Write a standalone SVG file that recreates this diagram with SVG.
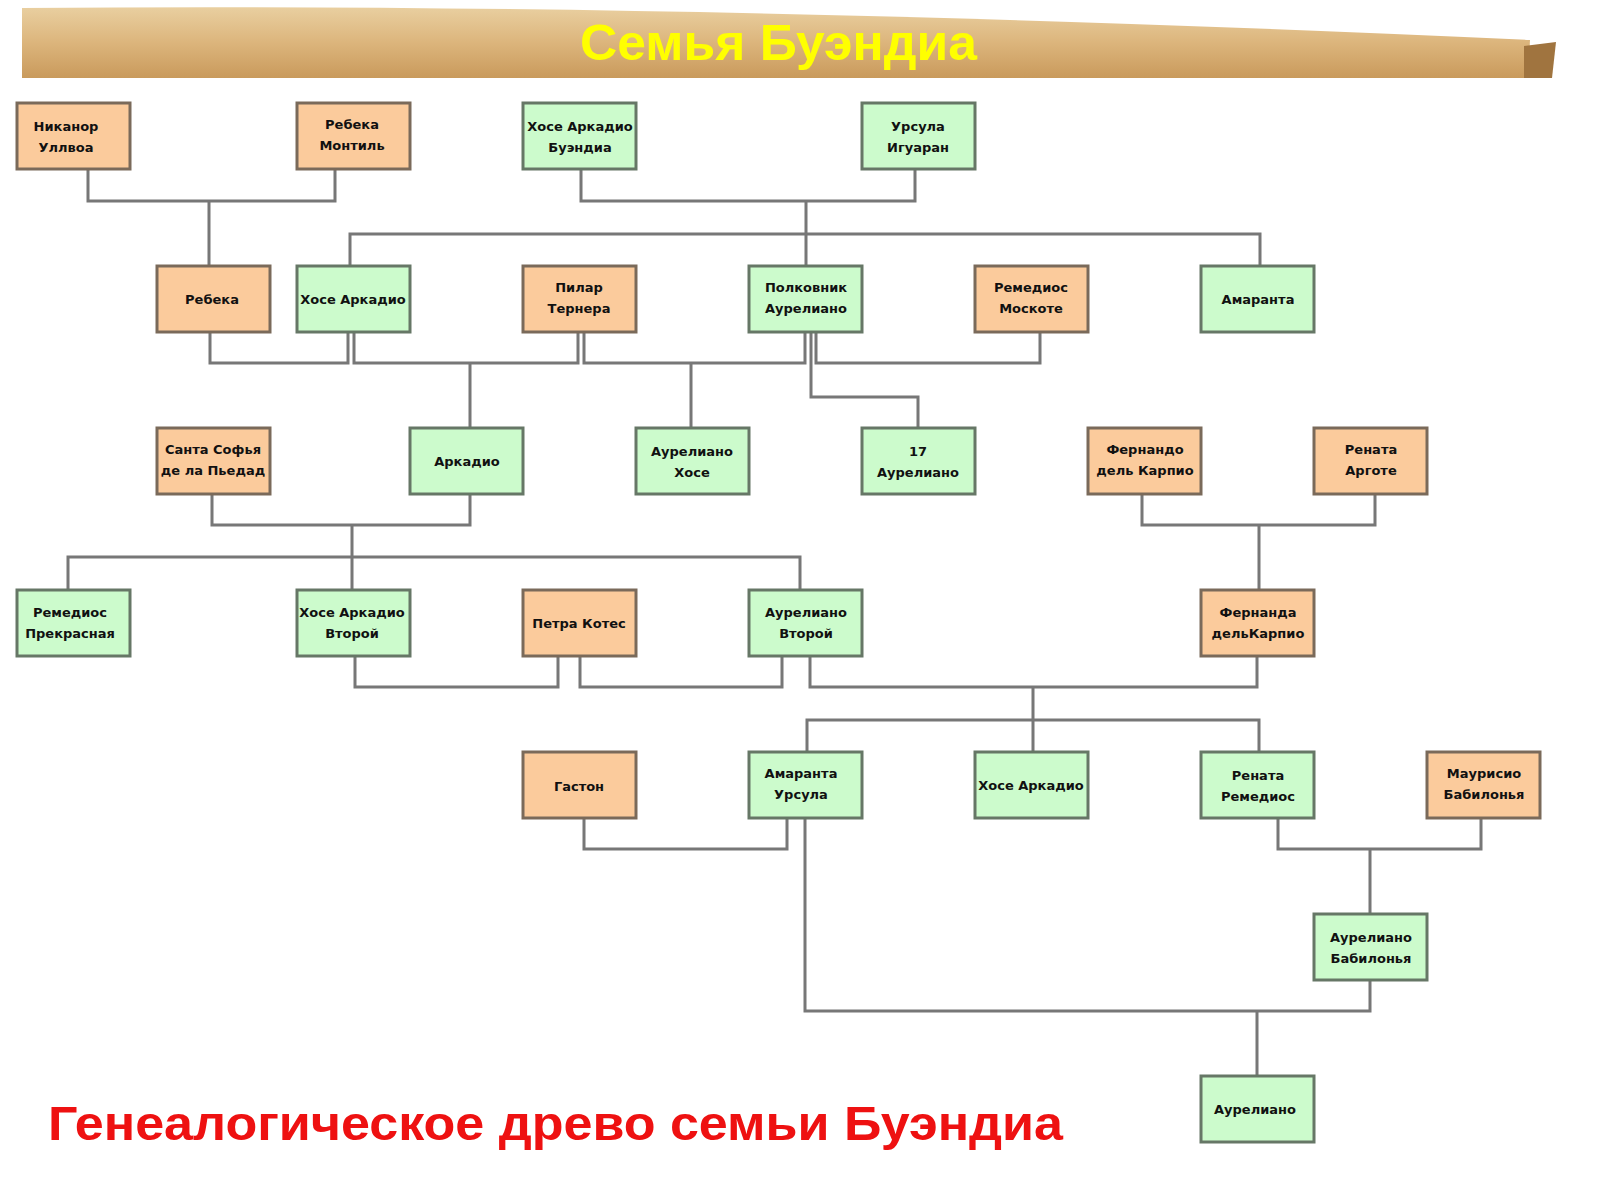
<svg xmlns="http://www.w3.org/2000/svg" width="1600" height="1200" viewBox="0 0 1600 1200">
<defs>
<linearGradient id="parch" x1="0" y1="0" x2="0" y2="1">
<stop offset="0" stop-color="#e9cfa0"/><stop offset="0.5" stop-color="#dcb57c"/><stop offset="1" stop-color="#c99a5c"/>
</linearGradient>
<style>
.o rect{fill:#fbcb9c;stroke:#7a6a5a;stroke-width:3}
.g rect{fill:#ccfbcc;stroke:#667766;stroke-width:3}
.n text{font-family:"DejaVu Sans",sans-serif;font-weight:bold;font-size:13px;fill:#111;text-anchor:middle}
#links path{fill:none;stroke:#777;stroke-width:3}
</style>
</defs>
<rect width="1600" height="1200" fill="#fff"/>
<path d="M22,8 Q700,2 1530,40 L1528,78 L22,78 Z" fill="url(#parch)"/>
<path d="M1524,46 L1556,42 L1552,78 L1524,78 Z" fill="#a0743f"/>
<text x="580" y="60" textLength="397" lengthAdjust="spacingAndGlyphs" font-family="Liberation Sans,Arial,sans-serif" font-weight="bold" font-size="50" fill="#ffff00">Семья Буэндиа</text>
<g id="links">
<path d="M88,169V201H335V169M209,201V266"/>
<path d="M581,169V201H915V169M806,201V266M350,266V234H1260V266"/>
<path d="M210,332V363H348V332M354,332V363H578V332M470,363V428"/>
<path d="M584,332V363H805V332M691,363V428"/>
<path d="M816,332V363H1040V332M811,332V397H918V428"/>
<path d="M212,494V525H470V494M352,525V590M68,590V557H800V590"/>
<path d="M1142,494V525H1375V494M1259,525V590"/>
<path d="M355,656V687H558V656M580,656V687H782V656"/>
<path d="M810,656V687H1257V656M1033,687V752M807,752V720H1259V752"/>
<path d="M584,818V849H787V818"/>
<path d="M1278,818V849H1481V818M1370,849V914"/>
<path d="M805,818V1011H1370V980M1257,1011V1076"/>
</g>
<g id="n1" class="n o"><rect x="17" y="103" width="113" height="66"/><text x="66" y="131">Никанор</text><text x="66" y="152">Уллвоа</text></g>
<g id="n2" class="n o"><rect x="297" y="103" width="113" height="66"/><text x="352" y="129">Ребека</text><text x="352" y="150">Монтиль</text></g>
<g id="n3" class="n g"><rect x="523" y="103" width="113" height="66"/><text x="580" y="131">Хосе Аркадио</text><text x="580" y="152">Буэндиа</text></g>
<g id="n4" class="n g"><rect x="862" y="103" width="113" height="66"/><text x="918" y="131">Урсула</text><text x="918" y="152">Игуаран</text></g>
<g id="n5" class="n o"><rect x="157" y="266" width="113" height="66"/><text x="212" y="304">Ребека</text></g>
<g id="n6" class="n g"><rect x="297" y="266" width="113" height="66"/><text x="353" y="304">Хосе Аркадио</text></g>
<g id="n7" class="n o"><rect x="523" y="266" width="113" height="66"/><text x="579" y="292">Пилар</text><text x="579" y="313">Тернера</text></g>
<g id="n8" class="n g"><rect x="749" y="266" width="113" height="66"/><text x="806" y="292">Полковник</text><text x="806" y="313">Аурелиано</text></g>
<g id="n9" class="n o"><rect x="975" y="266" width="113" height="66"/><text x="1031" y="292">Ремедиос</text><text x="1031" y="313">Москоте</text></g>
<g id="n10" class="n g"><rect x="1201" y="266" width="113" height="66"/><text x="1258" y="304">Амаранта</text></g>
<g id="n11" class="n o"><rect x="157" y="428" width="113" height="66"/><text x="213" y="454">Санта Софья</text><text x="213" y="475">де ла Пьедад</text></g>
<g id="n12" class="n g"><rect x="410" y="428" width="113" height="66"/><text x="467" y="466">Аркадио</text></g>
<g id="n13" class="n g"><rect x="636" y="428" width="113" height="66"/><text x="692" y="456">Аурелиано</text><text x="692" y="477">Хосе</text></g>
<g id="n14" class="n g"><rect x="862" y="428" width="113" height="66"/><text x="918" y="456">17</text><text x="918" y="477">Аурелиано</text></g>
<g id="n15" class="n o"><rect x="1088" y="428" width="113" height="66"/><text x="1145" y="454">Фернандо</text><text x="1145" y="475">дель Карпио</text></g>
<g id="n16" class="n o"><rect x="1314" y="428" width="113" height="66"/><text x="1371" y="454">Рената</text><text x="1371" y="475">Арготе</text></g>
<g id="n17" class="n g"><rect x="17" y="590" width="113" height="66"/><text x="70" y="617">Ремедиос</text><text x="70" y="638">Прекрасная</text></g>
<g id="n18" class="n g"><rect x="297" y="590" width="113" height="66"/><text x="352" y="617">Хосе Аркадио</text><text x="352" y="638">Второй</text></g>
<g id="n19" class="n o"><rect x="523" y="590" width="113" height="66"/><text x="579" y="628">Петра Котес</text></g>
<g id="n20" class="n g"><rect x="749" y="590" width="113" height="66"/><text x="806" y="617">Аурелиано</text><text x="806" y="638">Второй</text></g>
<g id="n21" class="n o"><rect x="1201" y="590" width="113" height="66"/><text x="1258" y="617">Фернанда</text><text x="1258" y="638">дельКарпио</text></g>
<g id="n22" class="n o"><rect x="523" y="752" width="113" height="66"/><text x="579" y="791">Гастон</text></g>
<g id="n23" class="n g"><rect x="749" y="752" width="113" height="66"/><text x="801" y="778">Амаранта</text><text x="801" y="799">Урсула</text></g>
<g id="n24" class="n g"><rect x="975" y="752" width="113" height="66"/><text x="1031" y="790">Хосе Аркадио</text></g>
<g id="n25" class="n g"><rect x="1201" y="752" width="113" height="66"/><text x="1258" y="780">Рената</text><text x="1258" y="801">Ремедиос</text></g>
<g id="n26" class="n o"><rect x="1427" y="752" width="113" height="66"/><text x="1484" y="778">Маурисио</text><text x="1484" y="799">Бабилонья</text></g>
<g id="n27" class="n g"><rect x="1314" y="914" width="113" height="66"/><text x="1371" y="942">Аурелиано</text><text x="1371" y="963">Бабилонья</text></g>
<g id="n28" class="n g"><rect x="1201" y="1076" width="113" height="66"/><text x="1255" y="1114">Аурелиано</text></g>
<text x="48" y="1140" textLength="1015" lengthAdjust="spacingAndGlyphs" font-family="Liberation Sans,Arial,sans-serif" font-weight="bold" font-size="48" fill="#ee1111">Генеалогическое древо семьи Буэндиа</text>
</svg>
